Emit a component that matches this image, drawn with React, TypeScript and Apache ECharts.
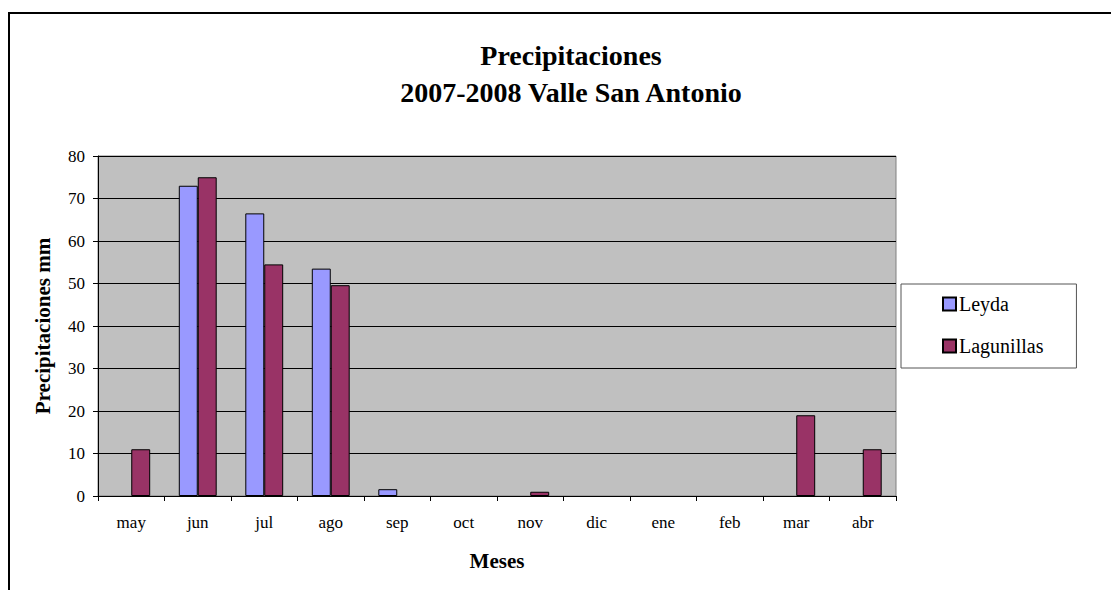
import React, { useEffect, useRef } from "react";
import * as echarts from "echarts";

const months = ["may", "jun", "jul", "ago", "sep", "oct", "nov", "dic", "ene", "feb", "mar", "abr"];
const leyda: (number | null)[] = [null, 73, 66.5, 53.5, 1.6, null, null, null, null, null, null, null];
const lagunillas: (number | null)[] = [11, 75, 54.5, 49.6, null, null, 1, null, null, null, 19, 11];
const seriesNames = ["Leyda", "Lagunillas"];
const titleText = "Precipitaciones\n2007-2008 Valle San Antonio";
const yAxisName = "Precipitaciones mm";
const xAxisName = "Meses";

const FONT = "'Liberation Serif', 'Times New Roman', serif";

export default function App() {
  const ref = useRef<HTMLDivElement>(null);
  useEffect(() => {
    if (!ref.current) return;
    const chart = echarts.init(ref.current, null, { renderer: "svg" });
    chart.setOption({
      animation: false,
      backgroundColor: "#ffffff",
      textStyle: { fontFamily: FONT },
      title: {
        text: titleText,
        left: 566,
        top: 32,
        textAlign: "center",
        textStyle: { fontFamily: FONT, fontSize: 28, fontWeight: "bold", color: "#000", lineHeight: 37 },
      },
      graphic: [
        {
          type: "rect",
          shape: { x: 9, y: 13, width: 1300, height: 800 },
          style: { fill: "none", stroke: "#000", lineWidth: 2 },
          silent: true,
        },
      ],
      legend: {
        orient: "vertical",
        left: 901,
        top: 284,
        padding: [10, 33, 12, 41],
        itemGap: 22,
        itemWidth: 13,
        itemHeight: 13,
        borderColor: "#555",
        borderWidth: 1,
        backgroundColor: "#fff",
        icon: "rect",
        textStyle: { fontFamily: FONT, fontSize: 20, color: "#000", padding: [0, 0, 0, -2] },
        data: seriesNames,
      },
      grid: {
        left: 98,
        right: 215,
        top: 156,
        bottom: 94,
        show: true,
        backgroundColor: "#C0C0C0",
        borderColor: "#808080",
        borderWidth: 1,
      },
      xAxis: {
        type: "category",
        data: months,
        name: xAxisName,
        nameLocation: "middle",
        nameGap: 54,
        nameTextStyle: { fontFamily: FONT, fontSize: 21, fontWeight: "bold", color: "#000" },
        axisLine: { lineStyle: { color: "#000", width: 1 } },
        axisTick: { show: true, length: 5, alignWithLabel: false, lineStyle: { color: "#000" } },
        axisLabel: { fontFamily: FONT, fontSize: 17, color: "#000", margin: 18, interval: 0 },
      },
      yAxis: {
        type: "value",
        min: 0,
        max: 80,
        interval: 10,
        name: yAxisName,
        nameLocation: "middle",
        nameGap: 45,
        nameTextStyle: { fontFamily: FONT, fontSize: 21, fontWeight: "bold", color: "#000" },
        axisLine: { show: true, lineStyle: { color: "#000", width: 1 } },
        axisTick: { show: true, length: 5, lineStyle: { color: "#000" } },
        axisLabel: { fontFamily: FONT, fontSize: 17, color: "#000", margin: 13 },
        splitLine: { show: true, lineStyle: { color: "#000", width: 1 } },
      },
      series: [
        {
          name: seriesNames[0],
          type: "bar",
          data: leyda,
          barGap: "0%",
          barCategoryGap: "43%",
          itemStyle: { color: "#9999FF", borderColor: "#000", borderWidth: 1 },
        },
        {
          name: seriesNames[1],
          type: "bar",
          data: lagunillas,
          barGap: "0%",
          barCategoryGap: "43%",
          itemStyle: { color: "#993366", borderColor: "#000", borderWidth: 1 },
        },
      ],
    });
    return () => chart.dispose();
  }, []);
  return (
    <div
      ref={ref}
      style={{ position: "fixed", left: 0, top: 0, width: 1111, height: 590 }}
    />
  );
}
